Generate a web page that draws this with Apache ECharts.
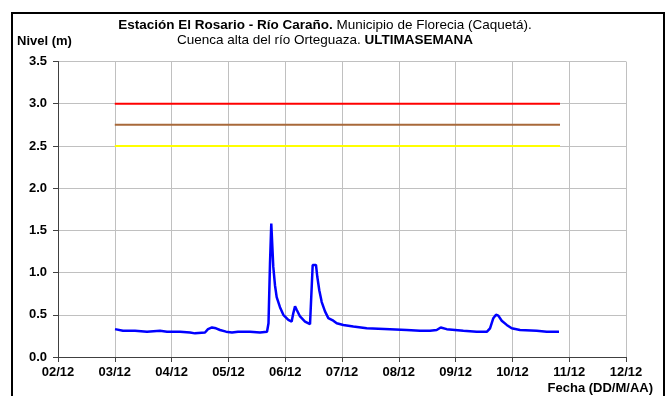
<!DOCTYPE html>
<html>
<head>
<meta charset="utf-8">
<script src="https://cdn.jsdelivr.net/npm/echarts@6/dist/echarts.min.js"></script>
<style>
  html, body { margin: 0; padding: 0; background: #fff; }
  #chart { width: 669px; height: 396px; }
</style>
</head>
<body>
<div id="chart"></div>
<script>
// eje X: dias desde 02/12 00:00
const etiquetasX = ['02/12', '03/12', '04/12', '05/12', '06/12', '07/12', '08/12', '09/12', '10/12', '11/12', '12/12']
const dias = [
  1.004, 1.144, 1.356, 1.567, 1.796, 1.919, 2.148, 2.324, 2.412, 2.588,
  2.641, 2.711, 2.782, 2.852, 2.958, 3.063, 3.169, 3.380, 3.556, 3.680,
  3.706, 3.732, 3.755, 3.790, 3.820, 3.850, 3.908, 3.967, 4.055, 4.114,
  4.143, 4.173, 4.202, 4.261, 4.349, 4.437, 4.467, 4.484, 4.542, 4.565,
  4.600, 4.643, 4.701, 4.759, 4.847, 4.907, 5.023, 5.199, 5.435, 5.845,
  6.139, 6.373, 6.549, 6.667, 6.738, 6.843, 7.136, 7.371, 7.553, 7.606,
  7.664, 7.711, 7.752, 7.812, 7.900, 7.988, 8.134, 8.428, 8.604, 8.820
]
const nivel = [
  0.33, 0.31, 0.31, 0.30, 0.31, 0.30, 0.30, 0.29, 0.28, 0.29,
  0.33, 0.35, 0.34, 0.32, 0.30, 0.29, 0.30, 0.30, 0.29, 0.30,
  0.40, 1.10, 1.58, 1.07, 0.85, 0.71, 0.59, 0.50, 0.44, 0.42,
  0.52, 0.60, 0.56, 0.48, 0.42, 0.39, 0.39, 1.09, 1.09, 0.95,
  0.79, 0.65, 0.54, 0.46, 0.43, 0.40, 0.38, 0.36, 0.34, 0.33,
  0.32, 0.31, 0.31, 0.32, 0.35, 0.33, 0.31, 0.30, 0.30, 0.34,
  0.46, 0.50, 0.49, 0.43, 0.38, 0.34, 0.32, 0.31, 0.30, 0.30
]
// niveles de alerta
const alertaRoja = 3.0
const alertaNaranja = 2.75
const alertaAmarilla = 2.5
const alertaDesde = 1.0
const alertaHasta = 8.838

const chart = echarts.init(document.getElementById('chart'))
const fuente = 'Liberation Sans, Arial, sans-serif'

const serieNivel = dias.map((d, i) => [d, nivel[i]])
function lineaAlerta(v) {
  return [[alertaDesde, v], [alertaHasta, v]]
}

let option = {
  animation: false,
  backgroundColor: '#fff',
  grid: {
    left: 58,
    right: 43,
    top: 61.5,
    bottom: 39
  },
  xAxis: {
    type: 'value',
    min: 0,
    max: 10,
    interval: 1,
    axisLine: { lineStyle: { color: '#404040', width: 1 } },
    axisTick: { show: true, length: 5, lineStyle: { color: '#404040' } },
    axisLabel: {
      margin: 9,
      color: '#000',
      fontFamily: fuente,
      fontWeight: 'bold',
      fontSize: 13,
      formatter: v => etiquetasX[v]
    },
    splitLine: { show: true, lineStyle: { color: '#c0c0c0', width: 1 } }
  },
  yAxis: {
    type: 'value',
    min: 0,
    max: 3.5,
    interval: 0.5,
    axisLine: { show: true, lineStyle: { color: '#404040', width: 1 } },
    axisTick: { show: true, length: 5, lineStyle: { color: '#404040' } },
    axisLabel: {
      margin: 11,
      color: '#000',
      fontFamily: fuente,
      fontWeight: 'bold',
      fontSize: 13,
      formatter: v => v.toFixed(1)
    },
    splitLine: { show: true, lineStyle: { color: '#c0c0c0', width: 1 } }
  },
  series: [
    {
      type: 'line',
      data: lineaAlerta(alertaRoja),
      showSymbol: false,
      lineStyle: { color: '#ff0000', width: 2 }
    },
    {
      type: 'line',
      data: lineaAlerta(alertaNaranja),
      showSymbol: false,
      lineStyle: { color: '#a8693a', width: 2 }
    },
    {
      type: 'line',
      data: lineaAlerta(alertaAmarilla),
      showSymbol: false,
      lineStyle: { color: '#ffff00', width: 2 }
    },
    {
      name: 'Nivel',
      type: 'line',
      data: serieNivel,
      showSymbol: false,
      lineStyle: { color: '#0000ff', width: 2.5 }
    }
  ],
  graphic: [
    {
      type: 'rect',
      shape: { x: 12, y: 13, width: 652, height: 420 },
      style: { fill: 'none', stroke: '#000', lineWidth: 2 },
      silent: true
    },
    {
      type: 'text',
      x: 325,
      y: 18,
      style: {
        text: '{b|Estación El Rosario - Río Caraño.} Municipio de Florecia (Caquetá).\nCuenca alta del río Orteguaza. {b|ULTIMASEMANA}',
        font: '13.5px ' + fuente,
        fill: '#000',
        align: 'center',
        lineHeight: 15,
        rich: {
          b: { fontWeight: 'bold', fontSize: 13.5, fontFamily: fuente, lineHeight: 15 }
        }
      }
    },
    {
      type: 'text',
      x: 17,
      y: 35,
      style: { text: 'Nivel (m)', font: 'bold 13px ' + fuente, fill: '#000' }
    },
    {
      type: 'text',
      x: 653,
      y: 382,
      style: { text: 'Fecha (DD/M/AA)', font: 'bold 13px ' + fuente, fill: '#000', align: 'right' }
    }
  ]
}
chart.setOption(option)
</script>
</body>
</html>
